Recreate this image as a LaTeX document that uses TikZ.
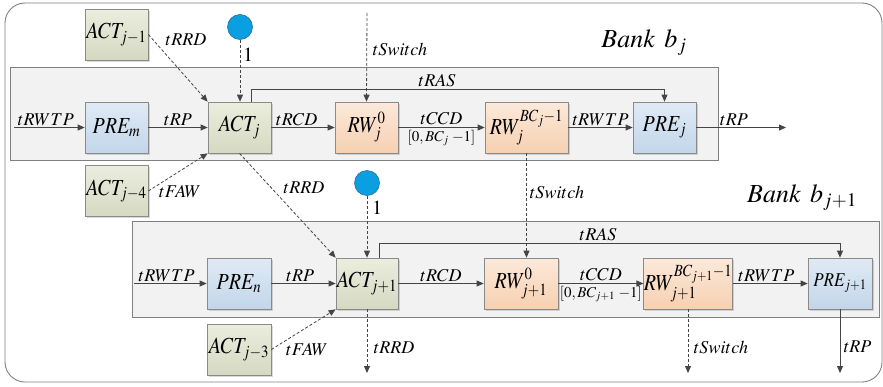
\documentclass[tikz,border=0pt]{standalone}
\usepackage{mathptmx}
\usepackage{graphicx}
\usetikzlibrary{arrows.meta,shadows}
\definecolor{actT}{HTML}{EBEDDE}
\definecolor{actB}{HTML}{D5D9C2}
\definecolor{preT}{HTML}{E0EAF5}
\definecolor{preB}{HTML}{C2D6EA}
\definecolor{rwT}{HTML}{FCE9DA}
\definecolor{rwB}{HTML}{F6D0B0}
\definecolor{boxline}{HTML}{8A8A8A}
\definecolor{bankfill}{HTML}{F2F2F2}
\definecolor{bankline}{HTML}{808080}
\definecolor{arrowc}{HTML}{454545}
\definecolor{circfill}{HTML}{0A9FE0}
\definecolor{circline}{HTML}{2C6E9C}
\newcommand{\nodetxt}[1]{\scalebox{1}[1.15]{$#1$}}
\begin{document}
\begin{tikzpicture}[x=1pt,y=-1pt,
  box/.style={draw=boxline, line width=0.7pt, inner sep=0pt, minimum width=63pt, minimum height=51pt, font=\fontsize{20}{24}\selectfont,
     drop shadow={shadow xshift=1.5pt, shadow yshift=-1.5pt, opacity=0.25, fill=black!60}},
  actbox/.style={box, top color=actT, bottom color=actB},
  prebox/.style={box, top color=preT, bottom color=preB},
  rwbox/.style={box, top color=rwT, bottom color=rwB},
  conn/.style={draw=arrowc, line width=0.8pt, -{Triangle[length=7pt,width=6pt]}},
  dconn/.style={conn, dash pattern=on 3pt off 2pt},
  lab/.style={font=\fontsize{18}{20}\selectfont, inner sep=1.5pt},
  smalllab/.style={font=\fontsize{15}{17}\selectfont, inner sep=1pt},
  onelab/.style={font=\fontsize{20}{22}\selectfont, inner sep=0pt, anchor=west},
  banklab/.style={font=\fontsize{26}{28}\selectfont, inner sep=0pt},
  bankrect/.style={draw=bankline, fill=bankfill, line width=0.8pt},
  circ/.style={circle, draw=circline, fill=circfill, line width=0.6pt, minimum size=25pt, inner sep=0pt}
]
\useasboundingbox (0,0) rectangle (883,386);
\draw[draw=bankline, line width=0.9pt, rounded corners=20pt] (5,3) rectangle (882,382);
\draw[bankrect] (10,67) rectangle (718,160);
\draw[bankrect] (132,221) rectangle (879,317);

% Bank b_j
\node[actbox] (actjm1) at (116.5,34.5) {\nodetxt{ACT_{j-1}}};
\node[actbox] (actjm4) at (116.5,191) {\nodetxt{ACT_{j-4}}};
\node[prebox] (prem) at (116.5,127.5) {\nodetxt{PRE_m}};
\node[actbox] (actj) at (239.5,127.5) {\nodetxt{ACT_j}};
\node[rwbox] (rw0j) at (366.5,127.5) {\nodetxt{RW_j^0}};
\node[rwbox, minimum width=83pt] (rwbcj) at (526.5,127.5) {\nodetxt{RW_j^{BC_j-1}}};
\node[prebox] (prej) at (664.5,127.5) {\nodetxt{PRE_j}};
\node[circ] (c1) at (240,27) {};

% Bank b_{j+1}
\node[prebox, minimum width=64pt] (pren) at (239,283.5) {\nodetxt{PRE_n}};
\node[actbox, minimum width=62pt] (actjj) at (367,283.5) {\nodetxt{ACT_{j+1}}};
\node[rwbox, minimum width=74pt] (rw0jj) at (521,283.5) {\nodetxt{RW_{j+1}^0}};
\node[rwbox, minimum width=88pt] (rwbcjj) at (688,283.5) {\nodetxt{RW_{j+1}^{BC_{j+1}-1}}};
\node[prebox, minimum width=64pt, font=\fontsize{17}{20}\selectfont] (prejj) at (840,283.5) {\nodetxt{PRE_{j+1}}};
\node[actbox, minimum width=64pt] (actjm3) at (239,349.5) {\nodetxt{ACT_{j-3}}};
\node[circ] (c2) at (367,183) {};

% coordinates
\coordinate (inA) at (14,127.5);
\coordinate (outA) at (786,127.5);
\coordinate (swA) at (367,13);
\coordinate (rasA) at (251,89);
\coordinate (inB) at (134,283.5);
\coordinate (rasB) at (379,243);
\coordinate (o1) at (367,373);
\coordinate (o2) at (688,373);
\coordinate (o3) at (840,373);

% top row connectors
\draw[conn] (inA) -- node[lab, above, pos=0.45] {$tRWTP$} (prem);
\draw[conn] (prem) -- node[lab, above] {$tRP$} (actj);
\draw[conn] (actj) -- node[lab, above, pos=0.4] {$tRCD$} (rw0j);
\draw[conn] (rw0j) -- node[lab, above, yshift=1pt] {$tCCD$} node[smalllab, below, yshift=-1.5pt] {$[0,BC_j\;{-}1]$} (rwbcj);
\draw[conn] (rwbcj) -- node[lab, above] {$tRWTP$} (prej);
\draw[conn] (prej) -- node[lab, above, pos=0.42] {$tRP$} (outA);
\draw[conn] (actj.north -| rasA) -- (rasA) -- node[lab, above, pos=0.45] {$tRAS$} (rasA -| prej.north) -- (prej.north);
\draw[dconn] (swA) -- (rw0j.north);
\node[lab, anchor=west] at (371,49) {$tSwitch$};
\draw[dconn] (c1.south) -- (c1.south |- actj.north);
\node[onelab] at (243,55) {$1$};
\draw[dconn] (actjm1.east) -- (actj.north west);
\node[lab] at (186,40) {$tRRD$};
\draw[dconn] (actjm4.east) -- (actj.south west);
\node[lab] at (180,192) {$tFAW$};
\draw[dconn] (actj.south) -- (actjj.north west);
\node[lab] at (304,188) {$tRRD$};
\draw[dconn] (rwbcj.south) -- (rwbcj.south |- rw0jj.north);
\node[lab, anchor=west] at (528,192) {$tSwitch$};

% bottom row connectors
\draw[conn] (inB) -- node[lab, above, pos=0.45] {$tRWTP$} (pren);
\draw[conn] (pren) -- node[lab, above, pos=0.45] {$tRP$} (actjj);
\draw[conn] (actjj) -- node[lab, above] {$tRCD$} (rw0jj);
\draw[conn] (rw0jj) -- node[lab, above, yshift=1pt] {$tCCD$} node[smalllab, below, yshift=-1.5pt] {$[0,BC_{j+1}\;{-}1]$} (rwbcjj);
\draw[conn] (rwbcjj) -- node[lab, above, pos=0.45] {$tRWTP$} (prejj);
\draw[conn] (actjj.north -| rasB) -- (rasB) -- node[lab, above, pos=0.475] {$tRAS$} (rasB -| prejj.north) -- (prejj.north);
\draw[dconn] (c2.south) -- (c2.south |- actjj.north);
\node[onelab] at (372,208) {$1$};
\draw[dconn] (actjm3.east) -- (actjj.south west);
\node[lab] at (307,350) {$tFAW$};
\draw[dconn] (actjj.south) -- (o1);
\node[lab, anchor=west] at (372,348) {$tRRD$};
\draw[dconn] (rwbcjj.south) -- (o2);
\node[lab, anchor=west] at (692,347) {$tSwitch$};
\draw[conn] (prejj.south) -- (o3);
\node[lab, anchor=west] at (842,347) {$tRP$};

% bank labels
\node[banklab] at (644,43) {$Bank\hspace{0.35em}b_j$};
\node[banklab] at (802,198) {$Bank\hspace{0.35em}b_{j+1}$};
\end{tikzpicture}
\end{document}
